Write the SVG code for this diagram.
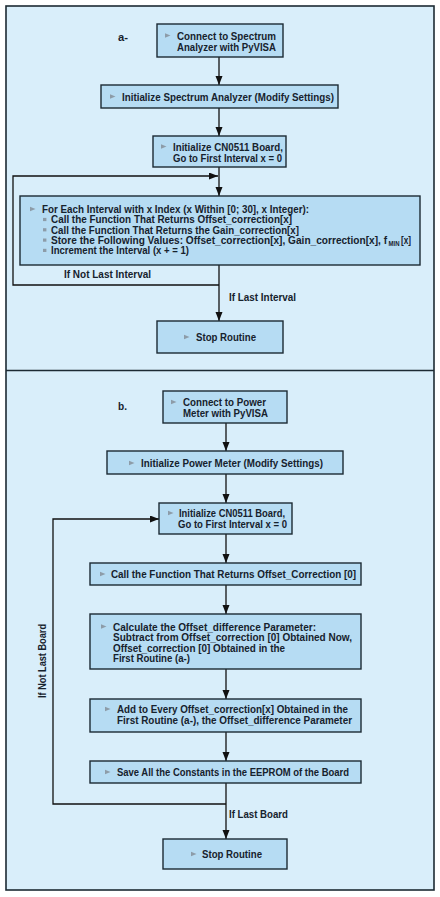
<svg xmlns="http://www.w3.org/2000/svg" xmlns:xlink="http://www.w3.org/1999/xlink" width="440" height="897" viewBox="0 0 440 897">
<style>
.nd{fill:#b6dcf3;stroke:#1c2a33;stroke-width:1.4}
.t{font-family:"Liberation Sans",Arial,sans-serif;font-weight:bold;font-size:11.5px;fill:#16222d}
.lb{font-family:"Liberation Sans",Arial,sans-serif;font-weight:bold;font-size:11.5px;fill:#16222d}
.sub{font-family:"Liberation Sans",Arial,sans-serif;font-weight:bold;font-size:7.5px;fill:#16222d}
.c{fill:none;stroke:#111;stroke-width:1.3}
.bl{fill:#8d9ca8}
</style>
<defs>
<marker id="ah" markerUnits="userSpaceOnUse" markerWidth="10" markerHeight="8" refX="9" refY="3.5" orient="auto">
<path d="M0,0 L9,3.5 L0,7 Z" fill="#111"/>
</marker>
<path id="tri" d="M0,-2.3 L5.5,0 L0,2.3 Z" class="bl"/>
<rect id="sq" x="0" y="-1.6" width="3.4" height="3.2" class="bl"/>
</defs>
<rect x="0" y="0" width="440" height="897" fill="#fff"/>
<rect x="6" y="6" width="428" height="884" fill="#d9eefa" stroke="#1c2a33" stroke-width="1.6"/>
<line x1="6" y1="370.5" x2="434" y2="370.5" stroke="#1c2a33" stroke-width="1.6"/>

<g id="connectors">
<path class="c" d="M219,57 V85" marker-end="url(#ah)"/>
<path class="c" d="M219,108 V136" marker-end="url(#ah)"/>
<path class="c" d="M219,167 V196" marker-end="url(#ah)"/>
<path class="c" d="M219,265 V321" marker-end="url(#ah)"/>
<path class="c" d="M219,285 H13 V176 H218" marker-end="url(#ah)"/>
<path class="c" d="M226,423 V451" marker-end="url(#ah)"/>
<path class="c" d="M226,474 V503" marker-end="url(#ah)"/>
<path class="c" d="M226,534 V563" marker-end="url(#ah)"/>
<path class="c" d="M226,585 V614" marker-end="url(#ah)"/>
<path class="c" d="M226,669 V699" marker-end="url(#ah)"/>
<path class="c" d="M226,732 V761" marker-end="url(#ah)"/>
<path class="c" d="M226,783 V839" marker-end="url(#ah)"/>
<path class="c" d="M226,804 H53 V519 H159" marker-end="url(#ah)"/>
</g>

<g id="labels">
<text class="lb" x="118" y="41" textLength="10" lengthAdjust="spacingAndGlyphs">a-</text>
<text class="lb" x="118" y="410" textLength="9" lengthAdjust="spacingAndGlyphs">b.</text>
<text class="lb" x="64" y="278" textLength="87" lengthAdjust="spacingAndGlyphs">If Not Last Interval</text>
<text class="lb" x="229" y="301" textLength="67" lengthAdjust="spacingAndGlyphs">If Last Interval</text>
<text class="lb" x="229" y="818" textLength="59" lengthAdjust="spacingAndGlyphs">If Last Board</text>
<text class="lb" transform="translate(46,698) rotate(-90)" x="0" y="0" textLength="74" lengthAdjust="spacingAndGlyphs">If Not Last Board</text>
</g>

<g id="a1">
<rect class="nd" x="157" y="24" width="126" height="33"/>
<use xlink:href="#tri" x="165" y="35.5"/>
<text class="t" x="177" y="39.5" textLength="99" lengthAdjust="spacingAndGlyphs">Connect to Spectrum</text>
<text class="t" x="177" y="50.5" textLength="99" lengthAdjust="spacingAndGlyphs">Analyzer with PyVISA</text>
</g>
<g id="a2">
<rect class="nd" x="101" y="85" width="237" height="23"/>
<use xlink:href="#tri" x="110" y="96.5"/>
<text class="t" x="122" y="101" textLength="212" lengthAdjust="spacingAndGlyphs">Initialize Spectrum Analyzer (Modify Settings)</text>
</g>
<g id="a3">
<rect class="nd" x="153" y="136" width="133" height="31"/>
<use xlink:href="#tri" x="161" y="146.5"/>
<text class="t" x="173" y="150.5" textLength="110" lengthAdjust="spacingAndGlyphs">Initialize CN0511 Board,</text>
<text class="t" x="173" y="161.5" textLength="109" lengthAdjust="spacingAndGlyphs">Go to First Interval x = 0</text>
</g>
<g id="a4">
<rect class="nd" x="20" y="196" width="400" height="69"/>
<use xlink:href="#tri" x="30" y="209"/>
<text class="t" x="42" y="213" textLength="267" lengthAdjust="spacingAndGlyphs">For Each Interval with x Index (x Within [0; 30], x Integer):</text>
<use xlink:href="#sq" x="43" y="219.5"/>
<text class="t" x="51" y="223.3" textLength="241" lengthAdjust="spacingAndGlyphs">Call the Function That Returns Offset_correction[x]</text>
<use xlink:href="#sq" x="43" y="229.8"/>
<text class="t" x="51" y="233.6" textLength="248" lengthAdjust="spacingAndGlyphs">Call the Function That Returns the Gain_correction[x]</text>
<use xlink:href="#sq" x="43" y="240.1"/>
<text class="t" x="51" y="243.9" textLength="336" lengthAdjust="spacingAndGlyphs">Store the Following Values: Offset_correction[x], Gain_correction[x], f</text>
<text class="sub" x="388.5" y="246" textLength="11" lengthAdjust="spacingAndGlyphs">MIN</text>
<text class="t" x="401" y="243.9" textLength="10" lengthAdjust="spacingAndGlyphs">[x]</text>
<use xlink:href="#sq" x="43" y="250.4"/>
<text class="t" x="51" y="254.2" textLength="138" lengthAdjust="spacingAndGlyphs">Increment the Interval (x + = 1)</text>
</g>
<g id="a5">
<rect class="nd" x="157" y="321" width="126" height="32"/>
<use xlink:href="#tri" x="184" y="337"/>
<text class="t" x="196" y="341" textLength="60" lengthAdjust="spacingAndGlyphs">Stop Routine</text>
</g>

<g id="b1">
<rect class="nd" x="163" y="391" width="124" height="32"/>
<use xlink:href="#tri" x="171" y="402"/>
<text class="t" x="183" y="406" textLength="83" lengthAdjust="spacingAndGlyphs">Connect to Power</text>
<text class="t" x="183" y="417" textLength="85" lengthAdjust="spacingAndGlyphs">Meter with PyVISA</text>
</g>
<g id="b2">
<rect class="nd" x="107" y="451" width="236" height="23"/>
<use xlink:href="#tri" x="129" y="463"/>
<text class="t" x="141" y="467" textLength="182" lengthAdjust="spacingAndGlyphs">Initialize Power Meter (Modify Settings)</text>
</g>
<g id="b3">
<rect class="nd" x="159" y="503" width="133" height="31"/>
<use xlink:href="#tri" x="168" y="513"/>
<text class="t" x="179" y="517" textLength="106" lengthAdjust="spacingAndGlyphs">Initialize CN0511 Board,</text>
<text class="t" x="178" y="528" textLength="109" lengthAdjust="spacingAndGlyphs">Go to First Interval x = 0</text>
</g>
<g id="b4">
<rect class="nd" x="90" y="563" width="271" height="22"/>
<use xlink:href="#tri" x="100" y="574"/>
<text class="t" x="111" y="578" textLength="245" lengthAdjust="spacingAndGlyphs">Call the Function That Returns Offset_Correction [0]</text>
</g>
<g id="b5">
<rect class="nd" x="90" y="614" width="271" height="55"/>
<use xlink:href="#tri" x="101" y="626.5"/>
<text class="t" x="113" y="631" textLength="203" lengthAdjust="spacingAndGlyphs">Calculate the Offset_difference Parameter:</text>
<text class="t" x="113" y="641.3" textLength="239" lengthAdjust="spacingAndGlyphs">Subtract from Offset_correction [0] Obtained Now,</text>
<text class="t" x="113" y="651.6" textLength="172" lengthAdjust="spacingAndGlyphs">Offset_correction [0] Obtained in the</text>
<text class="t" x="113" y="662" textLength="77" lengthAdjust="spacingAndGlyphs">First Routine (a-)</text>
</g>
<g id="b6">
<rect class="nd" x="90" y="699" width="271" height="33"/>
<use xlink:href="#tri" x="105" y="709"/>
<text class="t" x="117" y="713" textLength="231" lengthAdjust="spacingAndGlyphs">Add to Every Offset_correction[x] Obtained in the</text>
<text class="t" x="117" y="724" textLength="235" lengthAdjust="spacingAndGlyphs">First Routine (a-), the Offset_difference Parameter</text>
</g>
<g id="b7">
<rect class="nd" x="90" y="761" width="271" height="22"/>
<use xlink:href="#tri" x="105" y="772"/>
<text class="t" x="117" y="776" textLength="232" lengthAdjust="spacingAndGlyphs">Save All the Constants in the EEPROM of the Board</text>
</g>
<g id="b8">
<rect class="nd" x="163" y="839" width="124" height="30"/>
<use xlink:href="#tri" x="191" y="854"/>
<text class="t" x="202" y="858" textLength="60" lengthAdjust="spacingAndGlyphs">Stop Routine</text>
</g>
</svg>
